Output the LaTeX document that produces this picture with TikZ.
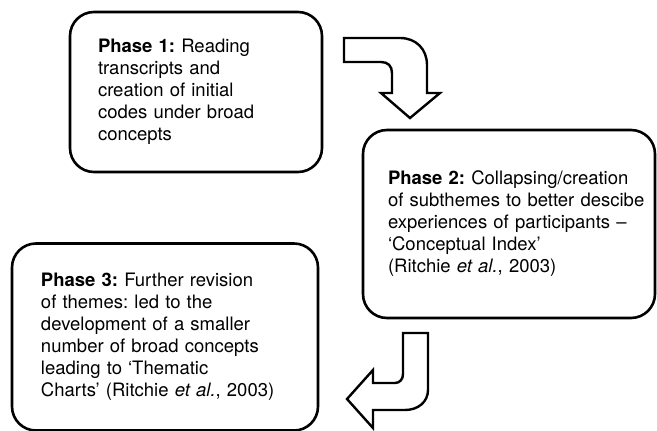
\documentclass[tikz,border=0pt]{standalone}
\usepackage{fontspec}
\setmainfont{TeX Gyre Heros}
\usetikzlibrary{positioning}
\newcommand\phasefont{\fontsize{18.5}{22}\selectfont\frenchspacing\hyphenpenalty=10000\relax\hbadness=10000\relax\hfuzz=50pt\relax}

\begin{document}
\begin{tikzpicture}[
    x=1pt, y=-1pt,
    box/.style={rectangle, draw, line width=2.6pt, rounded corners=24pt, align=left, inner xsep=26pt,
                font=\phasefont},
    bend arrow/.style={draw, line width=2.4pt, fill=white, line join=miter}
]
\useasboundingbox (0,0) rectangle (657,431);

% Phase boxes
\node[box, inner xsep=28pt, minimum width=252pt, minimum height=160pt, text width=196pt] (phaseone) at (196,92)
  {\textbf{Phase 1:} Reading\\ transcripts and\\ creation of initial\\ codes under broad\\ concepts};
\node[box, inner xsep=25pt, minimum width=292pt, minimum height=188pt, text width=242pt] (phasetwo) at (509,224)
  {\textbf{Phase 2:} Collapsing/creation\\ \mbox{of subthemes to better descibe}\\ experiences of participants --\\ `Conceptual Index'\\ (Ritchie \textit{et al.}, 2003)};
\node[box, inner xsep=29pt, minimum width=306pt, minimum height=187pt, text width=248pt] (phasethree) at (165,337)
  {\textbf{Phase 3:} Further revision\\ of themes: led to the\\ development of a smaller\\ number of broad concepts\\ leading to `Thematic\\ Charts' (Ritchie \textit{et al.}, 2003)};

% Bent block arrows
\draw[bend arrow] (344,38) -- (400,38) .. controls (416,38) and (427,49) .. (427,65) -- (427,93)
  -- (440,93) -- (410,118) -- (381,93) -- (392,93) -- (392,73)
  .. controls (392,66) and (388,62) .. (381,62) -- (344,62) -- cycle;
\draw[bend arrow] (403,333) -- (428,333) -- (428,390) .. controls (428,402) and (418,410) .. (405,410)
  -- (373,410) -- (373,428) -- (347,399) -- (373,370) -- (373,383) -- (395,383)
  .. controls (400,383) and (403,379) .. (403,374) -- cycle;

\end{tikzpicture}
\end{document}
